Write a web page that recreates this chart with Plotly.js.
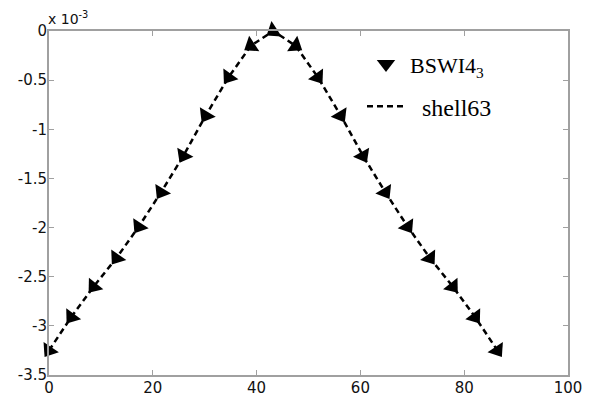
<!DOCTYPE html>
<html><head><meta charset="utf-8">
<script src="https://cdn.plot.ly/plotly-3.0.1.min.js"></script>
<style>html,body{margin:0;padding:0;background:#fff;}#chart{width:595px;height:398px;}</style>
</head><body><div id="chart"></div>
<script>
// x positions and values (y in units of 1e-3)
var xValues = [0, 4.3, 8.6, 13, 17.3, 21.6, 25.9, 30.2, 34.6, 38.9, 43.2, 47.5, 51.8, 56.2, 60.5, 64.8, 69.1, 73.4, 77.8, 82.1, 86.4];
var bswiY = [-3.25, -2.91, -2.60, -2.31, -1.99, -1.64, -1.27, -0.86, -0.47, -0.15, 0, -0.15, -0.47, -0.86, -1.27, -1.64, -1.99, -2.31, -2.60, -2.91, -3.25];
var shellY = [-3.25, -2.91, -2.60, -2.31, -1.99, -1.64, -1.27, -0.86, -0.47, -0.15, 0, -0.15, -0.47, -0.86, -1.27, -1.64, -1.99, -2.31, -2.60, -2.91, -3.25];
var xTicks = [0, 20, 40, 60, 80, 100];
var yTicks = [0, -0.5, -1, -1.5, -2, -2.5, -3, -3.5];
var yTickText = ['0', '-0.5', '-1', '-1.5', '-2', '-2.5', '-3', '-3.5'];
var seriesNames = ['<span style="font-size:22px">BSWI4<sub>3</sub></span>', '\u00a0\u00a0shell63'];

var W = 595, H = 398;
var margin = {l: 49, r: 27, t: 31, b: 23, pad: 0};
var plotW = W - margin.l - margin.r, plotH = H - margin.t - margin.b;
var xRange = [0, 100], yRange = [-3.5, 0];
var sx = plotW / (xRange[1] - xRange[0]);
var sy = plotH / (yRange[1] - yRange[0]);

// peak index
var peak = 0;
for (var i = 1; i < bswiY.length; i++) if (bswiY[i] > bswiY[peak]) peak = i;
// markers point along the curve, away from the peak
var angles = bswiY.map(function (v, i) {
  var a, b;
  if (i === peak) { a = i; b = i - 1; }
  else if (i < peak) { a = i + 1; b = i; }
  else { a = i - 1; b = i; }
  var dx = (xValues[b] - xValues[a]) * sx;
  var dyS = -(bswiY[b] - bswiY[a]) * sy;
  return Math.atan2(dx, -dyS) * 180 / Math.PI;
});

var traces = [
  {x: [null], y: [null], mode: 'markers', name: seriesNames[0], legendgroup: 'a',
   marker: {symbol: 'triangle-down', size: 16, color: '#000'}, hoverinfo: 'skip'},
  {x: xValues, y: shellY, mode: 'lines', name: seriesNames[1], legendgroup: 'b', cliponaxis: false,
   line: {color: '#000', width: 2.5, dash: '6px,4px'}},
  {x: xValues, y: bswiY, mode: 'markers', name: 'BSWI4_3', legendgroup: 'a', showlegend: false, cliponaxis: false,
   marker: {symbol: 'triangle-up', size: 16, color: '#000', angle: angles, line: {width: 0}}}
];

var axisCommon = {
  showline: true, linecolor: '#a0a0a0', linewidth: 2, mirror: 'ticks',
  ticks: 'inside', ticklen: 5, tickwidth: 1, tickcolor: '#a0a0a0',
  showgrid: false, zeroline: false,
  tickfont: {family: 'DejaVu Sans', size: 15, color: '#111'}
};

var layout = {
  width: W, height: H, margin: margin,
  paper_bgcolor: '#fff', plot_bgcolor: '#fff',
  xaxis: Object.assign({}, axisCommon, {range: xRange, tickvals: xTicks, ticktext: xTicks.map(String), ticklabelstandoff: -2}),
  yaxis: Object.assign({}, axisCommon, {range: yRange, tickvals: yTicks, ticktext: yTickText, ticklabelstandoff: -3}),
  showlegend: true,
  legend: {x: (362 - 49) / plotW, y: (375 - 42) / plotH, xanchor: 'left', yanchor: 'top',
           bgcolor: 'rgba(0,0,0,0)', borderwidth: 0, itemwidth: 38, tracegroupgap: 8,
           font: {family: 'Liberation Serif', size: 24, color: '#000'}},
  annotations: [{xref: 'paper', yref: 'paper', x: 0, y: 1, xanchor: 'left', yanchor: 'bottom',
                 xshift: -3, yshift: 2, showarrow: false,
                 text: 'x 10<sup>-3</sup>', font: {family: 'DejaVu Sans', size: 14, color: '#111'}}]
};

Plotly.newPlot('chart', traces, layout, {displayModeBar: false, staticPlot: true});
</script>
</body></html>
